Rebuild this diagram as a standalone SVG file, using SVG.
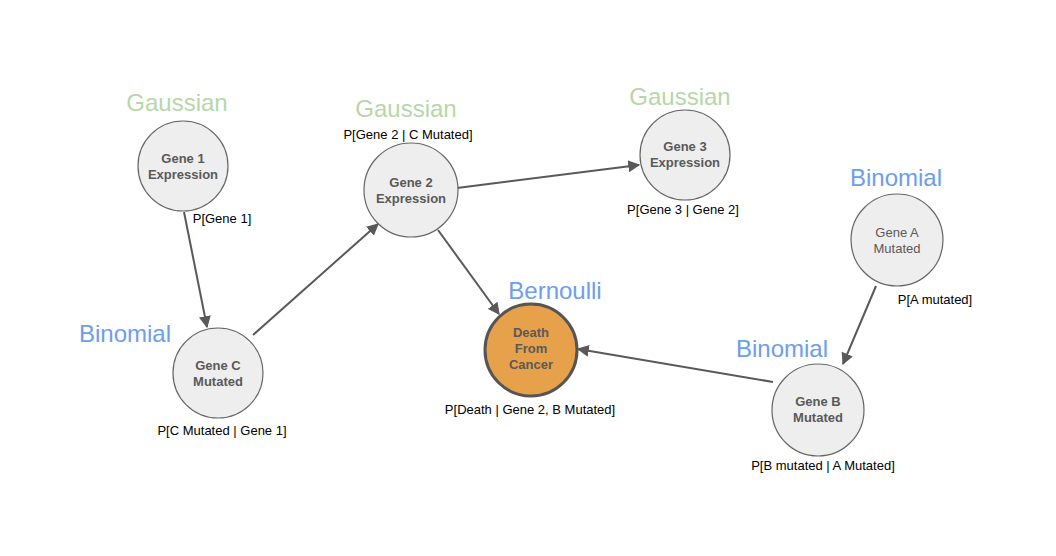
<svg xmlns="http://www.w3.org/2000/svg" width="1056" height="556" viewBox="0 0 1056 556">
<style>
.n{fill:#eeeeee;stroke:#666666;stroke-width:1.2}
.d{fill:#e8a14b;stroke:#555555;stroke-width:3}
.t{font-family:"Liberation Sans",Arial,sans-serif;font-size:13px;fill:#595959;text-anchor:middle;font-weight:bold}
.tn{font-weight:normal}
.g{font-family:"Liberation Sans",Arial,sans-serif;font-size:24px;fill:#b6d7a8;text-anchor:middle}
.b{font-family:"Liberation Sans",Arial,sans-serif;font-size:24px;fill:#6d9eeb;text-anchor:middle}
.p{font-family:"Liberation Sans",Arial,sans-serif;font-size:13px;fill:#000000;text-anchor:middle}
.e{stroke:#595959;stroke-width:2;fill:none;marker-end:url(#ah)}
</style>
<defs>
<marker id="ah" viewBox="0 0 10 10" refX="9" refY="5" markerWidth="6" markerHeight="6" orient="auto" markerUnits="strokeWidth">
<path d="M0,0 L10,5 L0,10 z" fill="#595959"/>
</marker>
</defs>
<rect width="1056" height="556" fill="#ffffff"/>
<g id="connectors">
<line class="e" x1="184" y1="212" x2="207" y2="327"/>
<line class="e" x1="253" y1="335" x2="378" y2="224"/>
<line class="e" x1="457" y1="188" x2="639" y2="165"/>
<line class="e" x1="438" y1="230" x2="499" y2="314"/>
<line class="e" x1="876" y1="286" x2="843" y2="364"/>
<line class="e" x1="773" y1="382" x2="578" y2="349"/>
</g>
<g id="gene1">
<text class="g" x="177" y="111">Gaussian</text>
<circle class="n" cx="183" cy="166" r="45"/>
<text class="t" x="183" y="163">Gene 1</text>
<text class="t" x="183" y="179">Expression</text>
<text class="p" x="222" y="223">P[Gene 1]</text>
</g>
<g id="gene2">
<text class="g" x="406" y="117">Gaussian</text>
<text class="p" x="408" y="139">P[Gene 2 | C Mutated]</text>
<circle class="n" cx="411" cy="190" r="47"/>
<text class="t" x="411" y="187">Gene 2</text>
<text class="t" x="411" y="203">Expression</text>
</g>
<g id="gene3">
<text class="g" x="680" y="105">Gaussian</text>
<circle class="n" cx="685" cy="155" r="45"/>
<text class="t" x="685" y="151">Gene 3</text>
<text class="t" x="685" y="167">Expression</text>
<text class="p" x="683" y="214">P[Gene 3 | Gene 2]</text>
</g>
<g id="geneA">
<text class="b" x="896" y="186">Binomial</text>
<circle class="n" cx="897" cy="240" r="46"/>
<text class="t tn" x="897" y="237">Gene A</text>
<text class="t tn" x="897" y="253">Mutated</text>
<text class="p" x="935" y="304">P[A mutated]</text>
</g>
<g id="geneC">
<text class="b" x="125" y="342">Binomial</text>
<circle class="n" cx="218" cy="373" r="45"/>
<text class="t" x="218" y="370">Gene C</text>
<text class="t" x="218" y="386">Mutated</text>
<text class="p" x="222" y="435">P[C Mutated | Gene 1]</text>
</g>
<g id="death">
<text class="b" x="555" y="299">Bernoulli</text>
<circle class="d" cx="531" cy="350" r="46"/>
<text class="t" x="531" y="337">Death</text>
<text class="t" x="531" y="353">From</text>
<text class="t" x="531" y="369">Cancer</text>
<text class="p" x="530" y="414">P[Death | Gene 2, B Mutated]</text>
</g>
<g id="geneB">
<text class="b" x="782" y="357">Binomial</text>
<circle class="n" cx="818" cy="410" r="46"/>
<text class="t" x="818" y="406">Gene B</text>
<text class="t" x="818" y="422">Mutated</text>
<text class="p" x="823" y="470">P[B mutated | A Mutated]</text>
</g>
</svg>
